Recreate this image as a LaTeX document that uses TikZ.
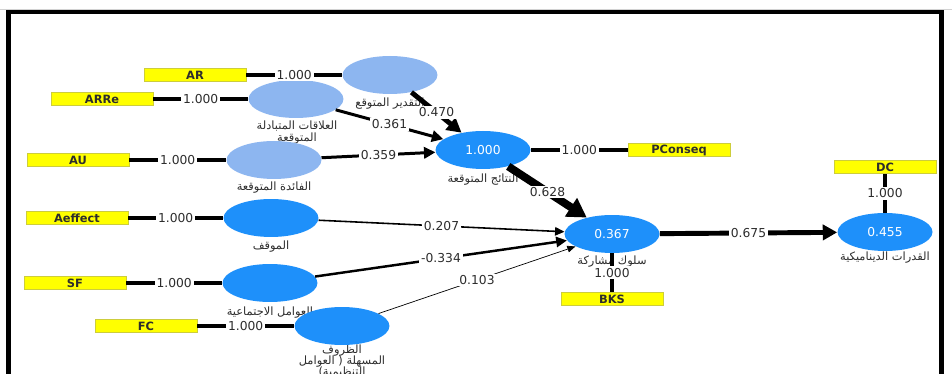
\documentclass[tikz,border=0pt]{standalone}
\usepackage{fontspec}
\setmainfont{DejaVu Sans}
\newfontfamily\arabicfont[Script=Arabic]{DejaVu Sans}
\TeXXeTstate=1
\usepackage{tikz}
\usetikzlibrary{arrows.meta,shapes.geometric,positioning}
\definecolor{lvlightblue}{RGB}{141,182,240}
\definecolor{lvdarkblue}{RGB}{30,144,250}
\definecolor{mvyellow}{RGB}{255,255,0}
\definecolor{mvedge}{RGB}{205,205,60}
\definecolor{txtgray}{RGB}{45,45,45}
\newcommand{\artxt}[1]{{\arabicfont\beginR #1\endR}}
\newcommand{\lvnamefont}{\fontsize{6.5}{6.5}\selectfont\lineskiplimit=-6pt\relax}

\begin{document}
\begin{tikzpicture}[
    x=0.02cm, y=-0.02cm,
    >={Triangle[length=4pt 1.5, width=3pt 2]},
    font=\fontsize{7}{8}\selectfont,
    latent/.style={
		ellipse,
		minimum width=1.9cm,
		minimum height=0.76cm,
		inner sep=0pt,
		text=white
	},
    lvlight/.style={latent, fill=lvlightblue},
    lvdark/.style={latent, fill=lvdarkblue},
    indicator/.style={
		rectangle,
		fill=mvyellow,
		draw=mvedge,
		line width=0.3pt,
		minimum width=2.04cm,
		minimum height=0.27cm,
		inner sep=0pt,
		text=txtgray,
		font=\fontsize{6.5}{8}\selectfont\bfseries
	},
    lvname/.style={
		text=txtgray,
		align=center,
		inner sep=0pt,
		font=\lvnamefont
	},
    coef/.style={fill=white, inner sep=1pt, text=txtgray},
    load/.style={line width=2.6pt}
  ]
  \useasboundingbox (0,0) rectangle (952,374);

  % frame of the table cell
  \draw[gray!35, line width=0.4pt] (0,9.5) -- (952,9.5);
  \draw[line width=2.3pt] (8.5,380) -- (8.5,12) -- (941.5,12) -- (941.5,380);

  % names under the constructs
  \node[lvname] (arT) at (390,104) {\artxt{التقدير المتوقع}};
  \node[lvname] (arreT) at (297,132.5) {\artxt{العلاقات المتبادلة}\\\artxt{المتوقعة}};
  \node[lvname] (auT) at (274,188) {\artxt{الفائدة المتوقعة}};
  \node[lvname] (pcqT) at (483,180) {\artxt{النتائج المتوقعة}};
  \node[lvname] (affT) at (271,247) {\artxt{الموقف}};
  \node[lvname] (sfT) at (270,313) {\artxt{العوامل الاجتماعية}};
  \node[lvname] (fcT) at (342,361) {\artxt{الظروف}\\\artxt{المسهلة ( العوامل}\\\artxt{التنظيمية)}};
  \node[lvname] (bksT) at (612,267.5) {\artxt{سلوك مشاركة}\\\artxt{المعرفة}};
  \node[lvname] (dcT) at (885,258) {\artxt{القدرات الديناميكية}};

  % constructs
  \node[lvlight] (ar) at (390,75) {};
  \node[lvlight] (arre) at (296,99) {};
  \node[lvlight] (au) at (274,160) {};
  \node[lvdark] (pcq) at (483,150) {1.000};
  \node[lvdark] (aff) at (271,218) {};
  \node[lvdark] (sf) at (270,283) {};
  \node[lvdark] (fc) at (342,326) {};
  \node[lvdark] (bks) at (612,234) {0.367};
  \node[lvdark] (dc) at (885,232) {0.455};

  % indicators
  \node[indicator] (iar) at (195,75) {AR};
  \node[indicator] (iarre) at (102,99) {ARRe};
  \node[indicator] (iau) at (78,160) {AU};
  \node[indicator] (ipcq) at (679,150) {PConseq};
  \node[indicator] (iaff) at (77,218) {Aeffect};
  \node[indicator] (isf) at (75,283) {SF};
  \node[indicator] (ifc) at (146,326) {FC};
  \node[indicator] (ibks) at (612,299) {BKS};
  \node[indicator] (idc) at (885,167) {DC};

  % outer loadings
  \draw[load] (iar) -- node[coef] {1.000} (ar);
  \draw[load] (iarre) -- node[coef] {1.000} (arre);
  \draw[load] (iau) -- node[coef] {1.000} (au);
  \draw[load] (pcq) -- node[coef] {1.000} (ipcq);
  \draw[load] (iaff) -- node[coef] {1.000} (aff);
  \draw[load] (isf) -- node[coef] {1.000} (sf);
  \draw[load] (ifc) -- node[coef] {1.000} (fc);
  \draw[load] (bks) -- node[coef] {1.000} (ibks);
  \draw[load] (idc) -- node[coef] {1.000} (dc);

  % path coefficients
  \draw[->, line width=2.8pt] (ar) -- node[coef] {0.470} (pcq);
  \draw[->, line width=1.7pt] (arre) -- node[coef] {0.361} (pcq);
  \draw[->, line width=1.7pt] (au) -- node[coef] {0.359} (pcq);
  \draw[->, line width=4.5pt] (pcq) -- node[coef] {0.628} (bks);
  \draw[->, line width=0.9pt] (aff) -- node[coef] {0.207} (bks);
  \draw[->, line width=1.4pt] (sf) -- node[coef] {-0.334} (bks);
  \draw[->, line width=0.4pt] (fc) -- node[coef] {0.103} (bks);
  \draw[->, line width=2.8pt] (bks) -- node[coef] {0.675} (dc);

\end{tikzpicture}
\end{document}
